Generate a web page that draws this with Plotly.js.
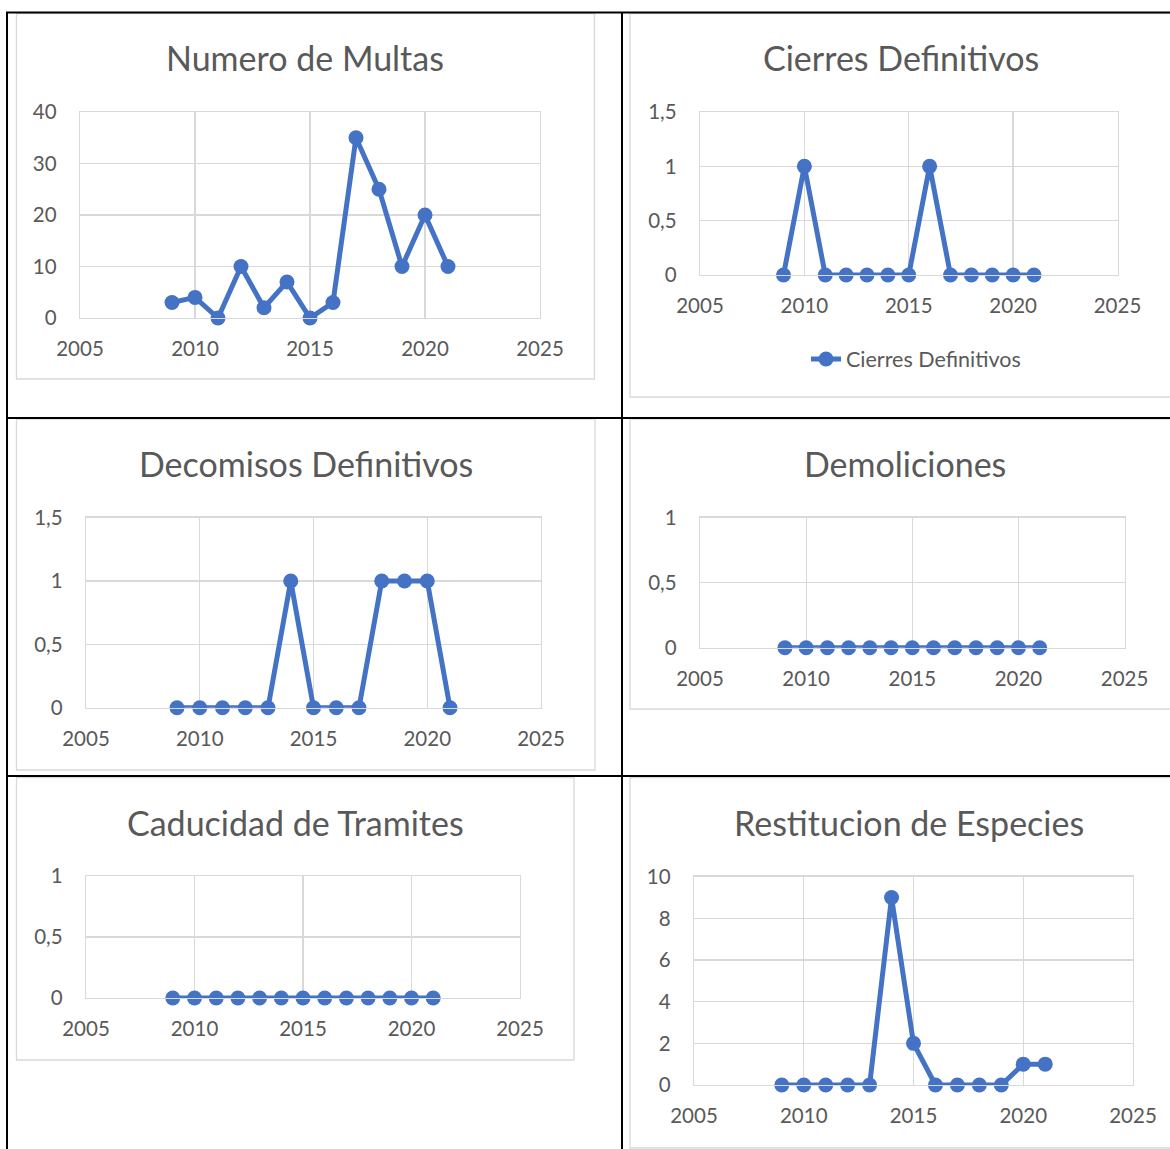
<!DOCTYPE html>
<html>
<head>
<meta charset="utf-8">
<script src="https://cdn.plot.ly/plotly-3.0.1.min.js"></script>
<style>
  html, body { margin: 0; padding: 0; background: #ffffff; }
  #chart { width: 1170px; height: 1149px; }
</style>
</head>
<body>
<div id="chart"></div>
<script>
// ---- Data ----
const years = [2009, 2010, 2011, 2012, 2013, 2014, 2015, 2016, 2017, 2018, 2019, 2020, 2021];
const multas = [3, 4, 0, 10, 2, 7, 0, 3, 35, 25, 10, 20, 10];
const cierres = [0, 1, 0, 0, 0, 0, 0, 1, 0, 0, 0, 0, 0];
const decomisos = [0, 0, 0, 0, 0, 1, 0, 0, 0, 1, 1, 1, 0];
const demoliciones = [0, 0, 0, 0, 0, 0, 0, 0, 0, 0, 0, 0, 0];
const caducidad = [0, 0, 0, 0, 0, 0, 0, 0, 0, 0, 0, 0, 0];
const restitucion = [0, 0, 0, 0, 0, 9, 2, 0, 0, 0, 0, 1, 1];

const titles = ["Numero de Multas", "Cierres Definitivos", "Decomisos Definitivos",
                "Demoliciones", "Caducidad de Tramites", "Restitucion de Especies"];
const series = [multas, cierres, decomisos, demoliciones, caducidad, restitucion];
const yRanges = [[0, 40], [0, 1.5], [0, 1.5], [0, 1], [0, 1], [0, 10]];
const yDticks = [10, 0.5, 0.5, 0.5, 0.5, 2];
const xRange = [2005, 2025];

// ---- Layout geometry (pixels) ----
const W = 1170, H = 1149;
const X = p => p / W;
const Y = p => 1 - p / H;

const plots = [
  {x0: 80,  x1: 540,    y0: 112,   y1: 318},
  {x0: 700, x1: 1117.5, y0: 112,   y1: 275},
  {x0: 86,  x1: 541,    y0: 517.7, y1: 707.7},
  {x0: 700, x1: 1124.6, y0: 517.7, y1: 647.7},
  {x0: 86,  x1: 520,    y0: 876,   y1: 998},
  {x0: 694, x1: 1133,   y0: 876.7, y1: 1085}
];
const titlePos = [[305, 58], [901, 58], [305.7, 463], [905, 463], [295, 822], [908.7, 822]];
const boxes = [
  [16.5, 13.5, 594.5, 379],
  [630, 13.5, 1180, 397],
  [16.5, 419, 595, 770],
  [630, 419, 1180, 709],
  [16.5, 777.5, 574, 1060],
  [630, 777.5, 1180, 1148]
];

const BLUE = '#4472C4';
const TXT = '#595959';
const GRID = '#D9D9D9';
const FONT = 'Lato, "Open Sans", sans-serif';

const traces = [];
const layout = {
  width: W, height: H, autosize: false,
  margin: {l: 0, r: 0, t: 0, b: 0, pad: 0},
  paper_bgcolor: '#ffffff', plot_bgcolor: '#ffffff',
  separators: ', ',
  font: {family: FONT, color: TXT},
  showlegend: true,
  legend: {
    x: X(806), y: Y(359), xanchor: 'left', yanchor: 'middle',
    orientation: 'h', bgcolor: 'rgba(0,0,0,0)',
    font: {family: FONT, size: 21.5, color: TXT},
    itemwidth: 30
  },
  annotations: [],
  shapes: []
};

plots.forEach((p, i) => {
  const n = i + 1;
  const xa = 'x' + (n === 1 ? '' : n);
  const ya = 'y' + (n === 1 ? '' : n);
  traces.push({
    type: 'scatter', mode: 'lines+markers',
    x: years, y: series[i],
    xaxis: xa, yaxis: ya,
    name: titles[i],
    showlegend: i === 1,
    cliponaxis: false,
    line: {color: BLUE, width: 5},
    marker: {color: BLUE, size: 15}
  });
  const axCommon = {
    showgrid: true, gridcolor: GRID, gridwidth: 1.3,
    showline: true, mirror: true, linecolor: GRID, linewidth: 1.3,
    zeroline: false, ticks: '', fixedrange: true,
    tickfont: {family: FONT, size: 20.5, color: TXT}
  };
  layout['xaxis' + (n === 1 ? '' : n)] = Object.assign({}, axCommon, {
    domain: [X(p.x0), X(p.x1)], anchor: ya,
    range: xRange, tickmode: 'linear', tick0: 2005, dtick: 5,
    ticklabelstandoff: 12
  });
  layout['yaxis' + (n === 1 ? '' : n)] = Object.assign({}, axCommon, {
    domain: [Y(p.y1), Y(p.y0)], anchor: xa,
    range: yRanges[i], tickmode: 'linear', tick0: 0, dtick: yDticks[i],
    ticklabelstandoff: 18
  });
  layout.annotations.push({
    xref: 'paper', yref: 'paper', x: X(titlePos[i][0]), y: Y(titlePos[i][1]),
    xanchor: 'center', yanchor: 'middle', showarrow: false,
    text: titles[i], font: {family: FONT, size: 34, color: TXT}
  });
});

// chart frames (light gray)
boxes.forEach(b => {
  layout.shapes.push({
    type: 'rect', xref: 'paper', yref: 'paper', layer: 'below',
    x0: X(b[0]), x1: X(b[2]), y0: Y(b[3]), y1: Y(b[1]),
    line: {color: GRID, width: 1.3}, fillcolor: 'rgba(0,0,0,0)'
  });
});

// table grid (black)
const tableLines = [
  [6, 12.5, 1172, 12.5],
  [7, 12, 7, 1152],
  [622, 12, 622, 1152],
  [6, 418, 1172, 418],
  [6, 776, 1172, 776]
];
tableLines.forEach(l => {
  layout.shapes.push({
    type: 'line', xref: 'paper', yref: 'paper', layer: 'above',
    x0: X(l[0]), x1: X(l[2]), y0: Y(l[1]), y1: Y(l[3]),
    line: {color: '#000000', width: 2}
  });
});

Plotly.newPlot('chart', traces, layout, {displayModeBar: false, staticPlot: true});
</script>
</body>
</html>
